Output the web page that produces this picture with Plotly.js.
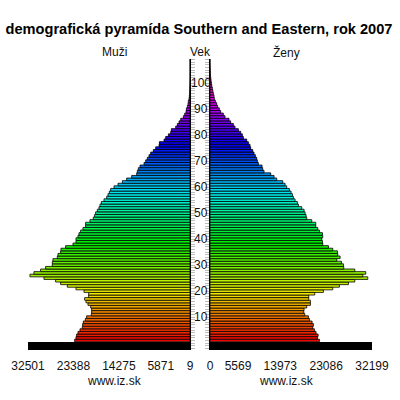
<!DOCTYPE html>
<html><head><meta charset="utf-8">
<script src="https://cdn.plot.ly/plotly-3.0.1.min.js"></script>
<style>html,body{margin:0;padding:0;background:#fff}#c{width:400px;height:400px}</style>
</head><body><div id="c"></div>
<script>
const titleText = 'demografická pyramída Southern and Eastern, rok 2007';
const male = [23147,22880,22746,22478,22077,21609,21542,21408,21007,20739,19802,19736,19736,19936,20471,20873,21140,20338,20338,21274,22880,24619,25957,26961,29302,32112,31309,29971,28968,27630,27630,27496,26626,26492,25957,25890,24954,23482,22880,22880,22478,22278,21943,21475,20940,20940,20070,19401,19133,18933,18598,18264,18063,17795,17260,16725,16457,16190,15922,15253,14450,13581,12711,11708,10704,10570,10370,10035,9232,8898,8563,8229,7894,7359,6891,6222,6155,5218,4884,4349,3880,3746,2877,2542,2208,1873,1338,1070,803,736,535,401,335,201,134,100,70,50,35,25,18,12,8,6,4,3,2,1,1];
const female = [21746,21349,21481,21083,20752,20420,20553,20288,19757,19559,18829,18630,18697,19227,19956,19956,19625,19625,20818,22542,24398,25724,27515,28774,31360,30365,30962,28774,26586,26520,26122,25194,25857,25393,25327,24398,23537,22409,22343,22211,22409,22343,21746,21415,21017,21017,20222,19227,19094,18896,18697,18233,17570,17371,16907,16575,16376,16111,15779,15249,14918,14453,13260,12730,12067,10741,10475,10343,9614,9415,9282,9017,8752,8486,8089,7956,7625,7293,6630,6431,6100,5636,4973,4641,4111,3779,2984,2652,2122,1856,1525,1326,1061,862,796,663,560,460,360,280,210,150,100,70,45,30,15,8,3];
const maleTicks = [32501,23388,14275,5871,9];
const femaleTicks = [0,5569,13973,23086,32199];
const ageLabels = [10,20,30,40,50,60,70,80,90,100];
const allAges = male.map((_, i) => i);
const barColors = allAges.map(a => `hsl(${Math.min(a * 3.2, 320)},100%,47%)`);
const FONT = 'Liberation Sans, Arial, sans-serif';
const barLine = {color:'#000', width:0.8};
const traces = [
  {type:'bar',orientation:'h',x:male,y:allAges,xaxis:'x',yaxis:'y',width:1,marker:{color:barColors,line:barLine},hoverinfo:'skip'},
  {type:'bar',orientation:'h',x:female,y:allAges,xaxis:'x2',yaxis:'y2',width:1,marker:{color:barColors,line:barLine},hoverinfo:'skip'},
  {type:'bar',orientation:'h',x:[maleTicks[0]],y:[-2.2],width:[3.1],xaxis:'x',yaxis:'y',marker:{color:'#000'},hoverinfo:'skip'},
  {type:'bar',orientation:'h',x:[femaleTicks[4]],y:[-2.2],width:[3.1],xaxis:'x2',yaxis:'y2',marker:{color:'#000'},hoverinfo:'skip'}
];
const yBase = {range:[-3.65,108.3],tickmode:'linear',tick0:0,dtick:1,ticks:'outside',ticklen:4,tickwidth:0.8,tickcolor:'#aaa',showticklabels:false,showgrid:false,zeroline:false,showline:true,linecolor:'#000',linewidth:1,fixedrange:true};
const xBase = {showgrid:false,zeroline:false,showline:false,ticks:'',tickmode:'array',ticklabelstandoff:7,tickfont:{family:FONT,size:12,color:'#111'},fixedrange:true,automargin:false};
const label = (text,x,y,size) => ({text,x,y,xref:'paper',yref:'paper',xanchor:'center',yanchor:'middle',showarrow:false,font:{family:FONT,size:size||12,color:'#111'}});
const px = v => (v-28)/344, py = v => (350-v)/291;
const layout = {
  width:400,height:400,paper_bgcolor:'#fff',plot_bgcolor:'#fff',showlegend:false,barmode:'overlay',bargap:0,
  margin:{l:28,r:28,t:59,b:50,pad:0},
  title:{text:titleText,x:0.4975,xanchor:'center',y:0.928,yanchor:'middle',font:{family:FONT,size:14.6,color:'#000',weight:'bold'}},
  xaxis:Object.assign({},xBase,{domain:[0,162/344],range:[maleTicks[0],maleTicks[4]],tickvals:maleTicks,ticktext:maleTicks.map(String),anchor:'y'}),
  xaxis2:Object.assign({},xBase,{domain:[182/344,1],range:[femaleTicks[0],femaleTicks[4]],tickvals:femaleTicks,ticktext:femaleTicks.map(String),anchor:'y2'}),
  yaxis:Object.assign({},yBase,{anchor:'x',side:'right'}),
  yaxis2:Object.assign({},yBase,{anchor:'x2',side:'left'}),
  annotations:[
    label('Muži',px(114),py(52)),label('Vek',px(200.5),py(52)),label('Ženy',px(286),py(52)),
    label('www.iz.sk',px(114),py(381)),label('www.iz.sk',px(286),py(381))
  ].concat(ageLabels.map(a => ({text:String(a),x:px(200.5),xref:'paper',y:a-0.8,yref:'y',xanchor:'center',yanchor:'middle',showarrow:false,font:{family:FONT,size:12,color:'#111'}})))
};
Plotly.newPlot('c',traces,layout,{displayModeBar:false,staticPlot:true});
</script></body></html>
